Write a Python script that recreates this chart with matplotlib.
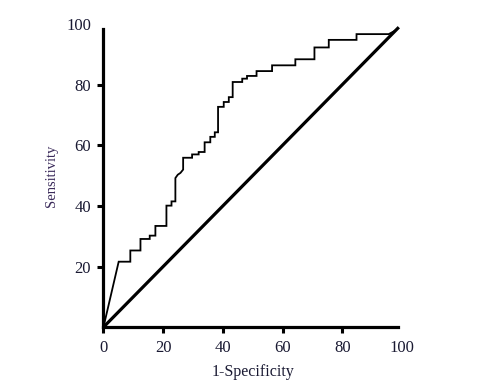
import matplotlib.pyplot as plt
import numpy as np

plt.rcParams['font.family'] = ['Liberation Serif', 'DejaVu Serif']

# ROC curve points (1-specificity, sensitivity)
fpr = [0, 5.1, 9.0, 9.0, 12.4, 12.4, 15.5, 15.5, 17.4, 17.4, 21.1, 21.1, 22.8, 22.8,
       24.1, 24.1, 24.9, 25.8, 26.7, 26.7, 29.7, 29.7, 31.9, 31.9, 33.9, 33.9, 35.8, 35.8,
       37.3, 37.3, 38.4, 38.4, 40.3, 40.3, 42.0, 42.0, 43.3, 43.3, 46.5, 46.5, 48.1, 48.1,
       51.3, 51.3, 56.5, 56.5, 64.3, 64.3, 70.7, 70.7, 75.5, 75.5, 84.8, 84.8, 95.6, 98.0]
tpr = [0, 21.6, 21.6, 25.3, 25.3, 29.1, 29.1, 30.2, 30.2, 33.4, 33.4, 40.1, 40.1, 41.5,
       41.5, 49.2, 50.3, 50.9, 52.0, 55.9, 55.9, 57.0, 57.0, 57.8, 57.8, 61.0, 61.0, 62.8,
       62.8, 64.3, 64.3, 72.7, 72.7, 74.3, 74.3, 75.9, 75.9, 80.9, 80.9, 82.0, 82.0, 82.9,
       82.9, 84.5, 84.5, 86.4, 86.4, 88.4, 88.4, 92.3, 92.3, 94.8, 94.8, 96.7, 96.7, 98.0]
ref_line = [0, 98.6]

fig = plt.figure(figsize=(4.79, 3.89), dpi=100)
ax = fig.add_axes([0.216, 0.159, 0.623, 0.779])

ax.plot(fpr, tpr, color='black', lw=1.3, solid_joinstyle='miter')
ax.plot(ref_line, ref_line, color='black', lw=2.3)

ax.set_xlim(0, 100)
ax.set_ylim(0, 100)
ax.set_xticks(np.arange(0, 101, 20))
ax.set_yticks(np.arange(20, 101, 20))

for s in ['top', 'right']:
    ax.spines[s].set_visible(False)
for s in ['left', 'bottom']:
    ax.spines[s].set_linewidth(2.3)
ax.spines['bottom'].set_bounds(0, 98.8)
ax.spines['left'].set_bounds(0, 98.3)

ax.tick_params(direction='out', length=4, width=2.2, labelsize=12,
               labelcolor='#1a1a33', pad=5)
# no tick marks at 100, only the labels
ax.xaxis.get_major_ticks()[-1].tick1line.set_visible(False)
ax.yaxis.get_major_ticks()[-1].tick1line.set_visible(False)

ax.set_xlabel('1-Specificity', fontsize=11.5, color='#1a1a33', labelpad=6)
ax.set_ylabel('Sensitivity', fontsize=10.5, color='#3a2a5a', labelpad=6)

fig.savefig('out.png', dpi=100)
